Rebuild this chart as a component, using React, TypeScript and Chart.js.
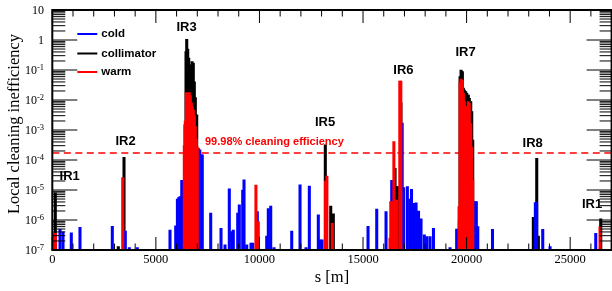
import { useEffect, useRef } from "react";
import { Chart, registerables } from "chart.js";

Chart.register(...registerables);

// ---- data (s in metres, local cleaning inefficiency) ----
const coldS = [372, 517, 917, 1337, 2897, 3524, 3718, 4104, 5682, 5958, 6040, 6110, 6170, 6250, 6310, 7000, 7060, 7120, 7180, 7240, 7647, 8145, 8338, 8545, 8661, 8738, 8951, 9028, 9192, 9255, 9386, 9593, 9675, 9897, 10351, 10428, 10544, 10704, 11558, 11959, 12249, 12408, 12842, 12924, 13021, 15242, 15662, 16111, 16386, 16890, 16960, 17140, 17260, 17340, 17440, 17560, 17680, 17800, 17960, 18080, 18235, 18400, 19200, 19520, 19600, 19650, 20330, 20400, 20470, 20540, 21250, 23320, 23380, 23676, 24030, 26235];
const coldV = [4.9e-7, 4.0e-7, 3.7e-7, 5.7e-7, 6.2e-7, 4.3e-7, 1.2e-7, 1.2e-7, 4.6e-7, 6.4e-7, 5.0e-6, 5.7e-6, 6.0e-6, 2.1e-5, 2.1e-5, 2.4e-4, 2.4e-4, 2.2e-4, 1.5e-4, 1.5e-4, 1.7e-6, 5.3e-7, 1.5e-7, 1.1e-5, 4.1e-7, 4.6e-7, 1.7e-6, 3.2e-6, 1.0e-5, 2.2e-5, 1.5e-7, 1.7e-7, 1.7e-7, 1.9e-6, 2.9e-7, 2.4e-6, 2.9e-6, 1.2e-7, 4.3e-7, 1.5e-5, 1.2e-7, 1.35e-5, 1.5e-6, 2.2e-7, 2.2e-7, 6.2e-7, 2.3e-6, 1.9e-6, 2.1e-5, 1.7e-3, 1.2e-5, 1.3e-5, 5.0e-6, 1.05e-5, 3.6e-6, 3.7e-6, 2.0e-6, 1.1e-6, 3.2e-7, 2.8e-7, 2.8e-7, 5.3e-7, 1.2e-7, 5.0e-7, 5.0e-7, 1.0e-6, 4.1e-6, 4.1e-6, 4.1e-6, 6.0e-7, 4.9e-7, 3.8e-6, 3.8e-6, 4.9e-7, 1.3e-7, 3.6e-7];

const collS = [145, 3186, 3462, 6407, 6455, 6489, 6537, 6585, 6648, 6696, 6745, 6807, 6856, 6904, 6971, 13180, 13441, 13566, 16546, 16618, 16690, 16830, 19684, 19733, 19796, 19843, 19891, 19959, 20007, 20084, 20132, 20200, 20248, 20296, 23222, 23386, 23463, 26476];
const collV = [8.1e-6, 1.3e-7, 1.23e-4, 1.5e-3, 0.41, 1.05, 0.5, 0.25, 0.14, 0.15, 0.19, 0.17, 0.04, 0.012, 3.2e-3, 3.2e-4, 2.9e-6, 1.6e-6, 5.3e-5, 1.3e-5, 1.3e-5, 8e-3, 0.06, 0.1, 0.088, 0.025, 0.0215, 0.019, 0.0166, 0.0147, 0.0113, 8.8e-3, 4.1e-3, 4.6e-4, 1.23e-6, 1.14e-4, 2.9e-7, 1.1e-6];

const warmS = [60, 150, 3400, 6373, 6421, 6469, 6518, 6566, 6614, 6663, 6711, 6759, 6807, 6856, 6904, 6952, 7000, 9830, 9945, 13190, 13255, 13518, 16303, 16340, 16400, 16490, 16560, 16620, 16775, 16825, 19636, 19684, 19733, 19796, 19843, 19891, 19959, 20007, 20084, 20132, 20200, 20248, 20296, 26442];
const warmV = [3.6e-7, 3.6e-7, 2.6e-5, 3e-4, 2e-3, 1.75e-2, 1.75e-2, 1.75e-2, 1.75e-2, 1.4e-2, 8e-3, 6e-3, 4.6e-3, 3e-3, 1.3e-3, 5e-4, 2.7e-4, 1.47e-5, 8.8e-7, 2e-5, 2.9e-5, 7.7e-7, 2.5e-7, 4.1e-6, 4.1e-6, 4.1e-4, 4.6e-6, 4.6e-6, 4.3e-2, 4.3e-2, 2.8e-6, 0.0392, 0.0497, 0.045, 0.0166, 8.8e-3, 6.1e-3, 1.65e-3, 8.8e-3, 7.7e-3, 1.65e-3, 2.7e-4, 2.15e-5, 6e-7];

const cleaningLevel = 1.7e-4;
const cleaningText = "99.98% cleaning efficiency";
const cleaningTextAt = { s: 7370, v: 4.0e-4 };

const irNames = ["IR1", "IR2", "IR3", "IR5", "IR6", "IR7", "IR8", "IR1"];
const irS = [840, 3534, 6480, 13166, 16950, 19950, 23190, 26060];
const irV = [2.78e-5, 4.07e-4, 2.61, 1.75e-3, 0.0948, 0.398, 3.69e-4, 3.41e-6];

const legendNames = ["cold", "collimator", "warm"];
const legendColors = ["#0000ff", "#000000", "#ff0000"];

const xMin = 0;
const xMax = 27000;
const xTickLabels = [0, 5000, 10000, 15000, 20000, 25000];
const xMajorStep = 5000;
const xMinorStep = 1000;
const yMinExp = -7;
const yMaxExp = 1;

const xTitle = "s [m]";
const yTitle = "Local cleaning inefficiency";

const SERIF = '"Liberation Serif", "Times New Roman", serif';
const SANS = '"Liberation Sans", Arial, sans-serif';

const toPts = (s: number[], v: number[]) => s.map((x, i) => ({ x, y: v[i] }));

const decorPlugin = {
  id: "decor",
  afterDatasetsDraw(chart: any) {
    const { ctx, chartArea: a, scales } = chart;
    const xs = scales.x;
    const ys = scales.y;
    ctx.save();
    // ticks
    ctx.strokeStyle = "#000";
    ctx.lineWidth = 1;
    ctx.beginPath();
    for (let n = yMinExp; n <= yMaxExp; n++) {
      for (let k = 1; k <= 9; k++) {
        const v = k * Math.pow(10, n);
        if (v > Math.pow(10, yMaxExp) * 1.0001) break;
        const py = ys.getPixelForValue(v);
        const lenL = k === 1 ? 25 : 13;
        const lenR = k === 1 ? 25 : 12;
        ctx.moveTo(a.left, py);
        ctx.lineTo(a.left + lenL, py);
        ctx.moveTo(a.right, py);
        ctx.lineTo(a.right - lenR, py);
      }
    }
    for (let s = xMin; s <= xMax; s += xMinorStep) {
      const px = xs.getPixelForValue(s);
      const major = s % xMajorStep === 0;
      const len = major ? 13 : 6.5;
      ctx.moveTo(px, a.top);
      ctx.lineTo(px, a.top + len);
      ctx.moveTo(px, a.bottom);
      ctx.lineTo(px, a.bottom - len);
    }
    ctx.stroke();
    // frame
    ctx.lineWidth = 2;
    ctx.strokeRect(a.left, a.top, a.right - a.left, a.bottom - a.top);

    // y tick labels (10^n)
    ctx.fillStyle = "#000";
    const rightX = a.left - 8.3;
    for (let n = yMinExp; n <= yMaxExp; n++) {
      const py = ys.getPixelForValue(Math.pow(10, n));
      ctx.font = `12px ${SERIF}`;
      ctx.textBaseline = "alphabetic";
      if (n === 1 || n === 0) {
        ctx.textAlign = "right";
        ctx.fillText(n === 1 ? "10" : "1", rightX, py + 4.2);
      } else {
        const exp = String(n);
        ctx.font = `8.5px ${SERIF}`;
        const ew = ctx.measureText(exp).width;
        ctx.textAlign = "left";
        ctx.fillText(exp, rightX - ew, py - 0.3);
        ctx.font = `12px ${SERIF}`;
        ctx.textAlign = "right";
        ctx.fillText("10", rightX - ew, py + 4.2);
      }
    }

    // axis titles
    ctx.font = `16.5px ${SERIF}`;
    ctx.textAlign = "center";
    ctx.textBaseline = "middle";
    ctx.fillText(xTitle, (a.left + a.right) / 2, 277.5);
    ctx.save();
    ctx.translate(14.5, 124);
    ctx.rotate(-Math.PI / 2);
    ctx.fillText(yTitle, 0, 0);
    ctx.restore();

    // legend
    ctx.font = `bold 11.5px ${SANS}`;
    ctx.textAlign = "left";
    ctx.textBaseline = "middle";
    const legY = [34, 53.5, 72];
    legendNames.forEach((name, i) => {
      ctx.strokeStyle = legendColors[i];
      ctx.lineWidth = 2;
      ctx.beginPath();
      ctx.moveTo(a.left + 25, legY[i]);
      ctx.lineTo(a.left + 45, legY[i]);
      ctx.stroke();
      ctx.fillStyle = "#000";
      ctx.fillText(name, a.left + 49, legY[i]);
    });

    // IR labels
    ctx.font = `bold 13px ${SANS}`;
    ctx.textAlign = "center";
    ctx.fillStyle = "#000";
    irNames.forEach((name, i) => {
      ctx.fillText(name, xs.getPixelForValue(irS[i]), ys.getPixelForValue(irV[i]));
    });

    // cleaning efficiency label
    ctx.font = `bold 11px ${SANS}`;
    ctx.textAlign = "left";
    ctx.fillStyle = "#ff0000";
    ctx.fillText(cleaningText, xs.getPixelForValue(cleaningTextAt.s), ys.getPixelForValue(cleaningTextAt.v));
    ctx.restore();
  },
};

export default function App() {
  const ref = useRef<HTMLCanvasElement>(null);
  useEffect(() => {
    document.body.style.margin = "0";
    const canvas = ref.current;
    if (!canvas) return;
    const chart = new Chart(canvas, {
      type: "bar",
      data: {
        datasets: [
          { label: "warm", data: toPts(warmS, warmV), backgroundColor: "#ff0000", order: 0 } as any,
          { label: "cold", data: toPts(coldS, coldV), backgroundColor: "#0000ff", order: 1 } as any,
          { label: "collimator", data: toPts(collS, collV), backgroundColor: "#000000", order: 2 } as any,
          {
            type: "line",
            label: "99.98% cleaning efficiency",
            data: [
              { x: xMin, y: cleaningLevel },
              { x: xMax, y: cleaningLevel },
            ],
            borderColor: "#ff0000",
            borderWidth: 1.5,
            borderDash: [7, 4.5],
            pointRadius: 0,
            order: 3,
          } as any,
        ],
      },
      options: {
        responsive: false,
        animation: false,
        devicePixelRatio: 1,
        events: [],
        layout: { padding: { left: 0, right: 0.4, top: 10, bottom: 0 } },
        plugins: {
          legend: { display: false },
          tooltip: { enabled: false },
          title: { display: false },
        },
        datasets: {
          bar: { grouped: false, barThickness: 2.4, borderWidth: 0 } as any,
        },
        scales: {
          x: {
            type: "linear",
            min: xMin,
            max: xMax,
            offset: false,
            grid: { display: false, drawTicks: false },
            border: { display: false },
            ticks: {
              autoSkip: false,
              maxRotation: 0,
              minRotation: 0,
              padding: 2.5,
              color: "#000",
              font: { family: SERIF, size: 12.5 },
              callback: (v: any) => String(v),
            },
            afterBuildTicks: (s: any) => {
              s.ticks = xTickLabels.map((value) => ({ value }));
            },
            afterFit: (s: any) => {
              s.height = 41;
              s.paddingLeft = 0;
              s.paddingRight = 0;
            },
          } as any,
          y: {
            type: "logarithmic",
            min: Math.pow(10, yMinExp),
            max: Math.pow(10, yMaxExp),
            grid: { display: false, drawTicks: false },
            border: { display: false },
            ticks: { display: false },
            afterFit: (s: any) => {
              s.width = 52.3;
              s.paddingTop = 0;
              s.paddingBottom = 0;
            },
          } as any,
        },
      },
      plugins: [decorPlugin],
    });
    return () => chart.destroy();
  }, []);
  return (
    <div style={{ width: 612, height: 291 }}>
      <canvas ref={ref} width={612} height={291} style={{ display: "block", width: 612, height: 291 }} />
    </div>
  );
}
